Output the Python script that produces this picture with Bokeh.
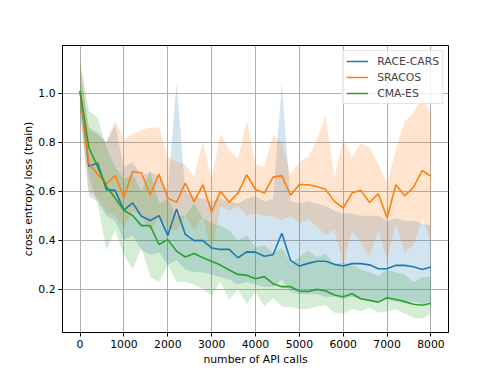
from bokeh.plotting import figure
from bokeh.models import Range1d, FixedTicker, PrintfTickFormatter, Legend, LegendItem
from bokeh.embed import file_html
from bokeh.resources import INLINE

# ---- data ----
api_calls = [0, 200, 400, 600, 800, 1000, 1200, 1400, 1600, 1800, 2000, 2200, 2400, 2600,
             2800, 3000, 3200, 3400, 3600, 3800, 4000, 4200, 4400, 4600, 4800, 5000, 5200,
             5400, 5600, 5800, 6000, 6200, 6400, 6600, 6800, 7000, 7200, 7400, 7600, 7800, 8000]

race_cars = [1.01, 0.702, 0.716, 0.607, 0.604, 0.523, 0.553, 0.498, 0.481, 0.501, 0.420,
             0.528, 0.424, 0.399, 0.399, 0.369, 0.363, 0.363, 0.329, 0.353, 0.352, 0.335,
             0.341, 0.429, 0.318, 0.295, 0.306, 0.315, 0.315, 0.302, 0.295, 0.305, 0.305,
             0.300, 0.284, 0.284, 0.298, 0.298, 0.292, 0.281, 0.291]
race_cars_upper = [1.10, 0.86, 0.84, 0.80, 0.87, 0.70, 0.72, 0.66, 0.68, 0.66, 0.60, 1.04,
                   0.60, 0.58, 0.57, 0.56, 0.57, 0.56, 0.55, 0.57, 0.58, 0.56, 0.57, 1.04,
                   0.56, 0.55, 0.56, 0.55, 0.54, 0.52, 0.51, 0.51, 0.50, 0.50, 0.50, 0.48,
                   0.49, 0.48, 0.48, 0.47, 0.46]
race_cars_lower = [0.93, 0.58, 0.56, 0.50, 0.48, 0.40, 0.42, 0.36, 0.34, 0.35, 0.30, 0.32,
                   0.28, 0.27, 0.27, 0.26, 0.25, 0.24, 0.22, 0.23, 0.22, 0.21, 0.21, 0.24,
                   0.19, 0.18, 0.18, 0.18, 0.17, 0.17, 0.16, 0.17, 0.16, 0.16, 0.15, 0.16,
                   0.15, 0.15, 0.15, 0.14, 0.15]

sracos = [1.01, 0.715, 0.67, 0.631, 0.664, 0.577, 0.681, 0.675, 0.586, 0.670, 0.573, 0.555,
          0.634, 0.557, 0.627, 0.516, 0.600, 0.555, 0.593, 0.668, 0.607, 0.593, 0.658, 0.664,
          0.584, 0.628, 0.627, 0.620, 0.607, 0.559, 0.532, 0.593, 0.604, 0.555, 0.590, 0.491,
          0.627, 0.582, 0.616, 0.685, 0.661]
sracos_upper = [1.12, 0.85, 0.83, 0.80, 0.89, 0.81, 0.835, 0.85, 0.86, 0.86, 0.74, 0.72,
                0.71, 0.66, 0.80, 0.65, 0.835, 0.77, 0.735, 0.89, 0.71, 0.70, 0.83, 0.80,
                0.67, 0.72, 0.74, 0.81, 0.91, 0.66, 0.815, 0.74, 0.795, 0.78, 0.71, 0.635,
                0.77, 0.885, 0.92, 0.99, 0.92]
sracos_lower = [0.92, 0.60, 0.57, 0.52, 0.50, 0.45, 0.52, 0.50, 0.44, 0.50, 0.45, 0.44,
                0.50, 0.44, 0.50, 0.35, 0.54, 0.52, 0.54, 0.50, 0.51, 0.50, 0.50, 0.48,
                0.50, 0.47, 0.485, 0.457, 0.42, 0.443, 0.30, 0.443, 0.39, 0.335, 0.443, 0.32,
                0.47, 0.35, 0.38, 0.49, 0.395]

cma_es = [1.01, 0.780, 0.70, 0.62, 0.573, 0.523, 0.501, 0.460, 0.460, 0.383, 0.403, 0.356,
          0.332, 0.346, 0.329, 0.315, 0.299, 0.279, 0.261, 0.258, 0.243, 0.252, 0.223, 0.211,
          0.211, 0.193, 0.191, 0.200, 0.193, 0.177, 0.170, 0.182, 0.162, 0.155, 0.148, 0.166,
          0.159, 0.150, 0.139, 0.135, 0.143]
cma_es_upper = [1.14, 0.93, 0.90, 0.78, 0.70, 0.65, 0.67, 0.60, 0.68, 0.55, 0.57, 0.50,
                0.50, 0.55, 0.49, 0.47, 0.46, 0.44, 0.40, 0.42, 0.37, 0.38, 0.35, 0.37,
                0.31, 0.33, 0.36, 0.33, 0.345, 0.30, 0.31, 0.30, 0.28, 0.27, 0.255, 0.28,
                0.27, 0.26, 0.23, 0.25, 0.25]
cma_es_lower = [0.93, 0.66, 0.55, 0.36, 0.44, 0.34, 0.28, 0.37, 0.25, 0.23, 0.30, 0.23,
                0.23, 0.22, 0.20, 0.175, 0.23, 0.16, 0.20, 0.14, 0.19, 0.13, 0.165, 0.13,
                0.128, 0.12, 0.12, 0.13, 0.135, 0.105, 0.10, 0.12, 0.11, 0.125, 0.105, 0.11,
                0.12, 0.10, 0.085, 0.08, 0.10]

series_names = ["RACE-CARS", "SRACOS", "CMA-ES"]
x_ticks = [0, 1000, 2000, 3000, 4000, 5000, 6000, 7000, 8000]
y_ticks = [0.2, 0.4, 0.6, 0.8, 1.0]

colors = ["#1f77b4", "#ff7f0e", "#2ca02c"]
FONT = "DejaVu Sans"
FS = "10.8px"

p = figure(width=490, height=368, output_backend="svg", toolbar_location=None,
           x_range=Range1d(-400, 8400), y_range=Range1d(0.024, 1.195),
           min_border_left=62, min_border_right=42, min_border_top=45, min_border_bottom=35)
p.background_fill_color = "white"
p.border_fill_color = "white"
p.outline_line_color = "black"
p.outline_line_width = 1

series = [(race_cars, race_cars_lower, race_cars_upper),
          (sracos, sracos_lower, sracos_upper),
          (cma_es, cma_es_lower, cma_es_upper)]

for (mean, lo, hi), c in zip(series, colors):
    p.varea(x=api_calls, y1=lo, y2=hi, fill_color=c, fill_alpha=0.2)

renderers = []
for (mean, lo, hi), c in zip(series, colors):
    r = p.line(x=api_calls, y=mean, line_color=c, line_width=1.6)
    renderers.append(r)

# axes
p.xaxis.ticker = FixedTicker(ticks=x_ticks)
p.yaxis.ticker = FixedTicker(ticks=y_ticks)
p.xaxis.formatter = PrintfTickFormatter(format="%d")
p.yaxis.formatter = PrintfTickFormatter(format="%.1f")
p.xaxis.axis_label = "number of API calls"
p.yaxis.axis_label = "cross entropy loss (train)"
for ax in [p.xaxis[0], p.yaxis[0]]:
    ax.axis_line_color = "black"
    ax.axis_line_width = 1
    ax.major_tick_line_color = "black"
    ax.major_tick_out = 4
    ax.major_tick_in = 0
    ax.minor_tick_line_color = None
    ax.major_label_text_font = FONT
    ax.major_label_text_font_size = FS
    ax.major_label_text_color = "black"
    ax.axis_label_text_font = FONT
    ax.axis_label_text_font_size = FS
    ax.axis_label_text_font_style = "normal"
    ax.axis_label_text_color = "black"
    ax.major_label_standoff = 3
    ax.axis_label_standoff = 2
p.yaxis[0].axis_label_standoff = 0

for g in [p.xgrid[0], p.ygrid[0]]:
    g.grid_line_color = "#b0b0b0"
    g.grid_line_width = 1
p.xgrid.ticker = FixedTicker(ticks=x_ticks)
p.ygrid.ticker = FixedTicker(ticks=y_ticks)

legend = Legend(items=[LegendItem(label=n, renderers=[r]) for n, r in zip(series_names, renderers)],
                location="top_right", margin=5, padding=3, spacing=2,
                glyph_width=22, glyph_height=14, label_height=14, label_standoff=9,
                label_text_font=FONT, label_text_font_size=FS,
                border_line_color="#cccccc", border_line_width=1,
                background_fill_color="white", background_fill_alpha=0.8)
p.add_layout(legend)

open("out.html", "w").write(file_html(p, INLINE))
